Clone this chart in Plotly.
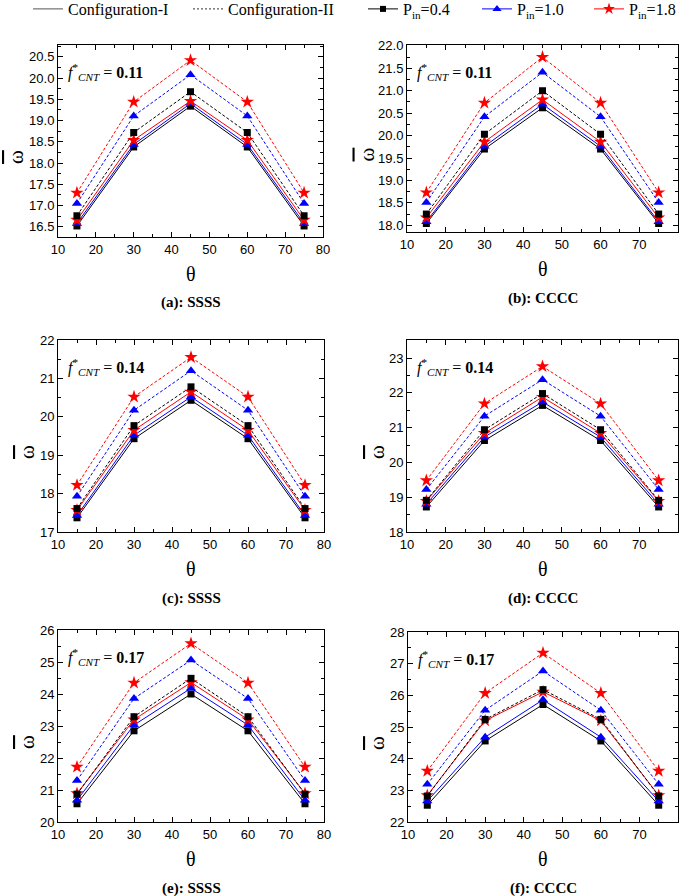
import plotly.graph_objects as go

theta = [15, 30, 45, 60, 75]

# (a) SSSS, f*=0.11
a_I_04 = [16.52, 18.38, 19.34, 18.38, 16.52]
a_I_10 = [16.58, 18.44, 19.40, 18.44, 16.58]
a_I_18 = [16.66, 18.54, 19.46, 18.54, 16.66]
a_II_04 = [16.76, 18.72, 19.68, 18.72, 16.76]
a_II_10 = [17.05, 19.11, 20.08, 19.11, 17.05]
a_II_18 = [17.30, 19.44, 20.42, 19.44, 17.30]
# (b) CCCC, f*=0.11
b_I_04 = [18.04, 19.70, 20.62, 19.70, 18.04]
b_I_10 = [18.08, 19.76, 20.70, 19.76, 18.08]
b_I_18 = [18.17, 19.86, 20.80, 19.86, 18.17]
b_II_04 = [18.25, 20.03, 21.00, 20.03, 18.25]
b_II_10 = [18.51, 20.42, 21.41, 20.42, 18.51]
b_II_18 = [18.73, 20.73, 21.75, 20.73, 18.73]
# (c) SSSS, f*=0.14
c_I_04 = [17.37, 19.43, 20.43, 19.43, 17.37]
c_I_10 = [17.43, 19.52, 20.52, 19.52, 17.43]
c_I_18 = [17.57, 19.65, 20.65, 19.65, 17.57]
c_II_04 = [17.61, 19.77, 20.78, 19.77, 17.61]
c_II_10 = [17.93, 20.17, 21.20, 20.17, 17.93]
c_II_18 = [18.22, 20.52, 21.55, 20.52, 18.22]
# (d) CCCC, f*=0.14
d_I_04 = [18.72, 20.63, 21.64, 20.63, 18.72]
d_I_10 = [18.80, 20.73, 21.74, 20.73, 18.80]
d_I_18 = [18.89, 20.84, 21.88, 20.84, 18.89]
d_II_04 = [18.91, 20.94, 21.98, 20.94, 18.91]
d_II_10 = [19.22, 21.33, 22.38, 21.33, 19.22]
d_II_18 = [19.48, 21.69, 22.76, 21.69, 19.48]
# (e) SSSS, f*=0.17
e_I_04 = [20.57, 22.85, 24.00, 22.85, 20.57]
e_I_10 = [20.68, 23.03, 24.18, 23.03, 20.68]
e_I_18 = [20.89, 23.20, 24.36, 23.20, 20.89]
e_II_04 = [20.87, 23.29, 24.49, 23.29, 20.87]
e_II_10 = [21.30, 23.86, 25.06, 23.86, 21.30]
e_II_18 = [21.72, 24.35, 25.58, 24.35, 21.72]
# (f) CCCC, f*=0.17
f_I_04 = [22.53, 24.56, 25.71, 24.56, 22.53]
f_I_10 = [22.66, 24.68, 25.86, 24.68, 22.66]
f_I_18 = [22.84, 25.20, 26.11, 25.20, 22.84]
f_II_04 = [22.82, 25.24, 26.18, 25.24, 22.82]
f_II_10 = [23.19, 25.53, 26.77, 25.53, 23.19]
f_II_18 = [23.61, 26.07, 27.34, 26.07, 23.61]

captions = ["(a): SSSS", "(b): CCCC", "(c): SSSS", "(d): CCCC", "(e): SSSS", "(f): CCCC"]
fcnt = ["0.11", "0.11", "0.14", "0.14", "0.17", "0.17"]
pin_labels = ["P<sub>in</sub>=0.4", "P<sub>in</sub>=1.0", "P<sub>in</sub>=1.8"]

panels = [
    (a_I_04, a_I_10, a_I_18, a_II_04, a_II_10, a_II_18),
    (b_I_04, b_I_10, b_I_18, b_II_04, b_II_10, b_II_18),
    (c_I_04, c_I_10, c_I_18, c_II_04, c_II_10, c_II_18),
    (d_I_04, d_I_10, d_I_18, d_II_04, d_II_10, d_II_18),
    (e_I_04, e_I_10, e_I_18, e_II_04, e_II_10, e_II_18),
    (f_I_04, f_I_10, f_I_18, f_II_04, f_II_10, f_II_18),
]

W, H = 685, 896
# pixel boxes (left, right, top, bottom)
boxes = [
    (58, 323, 45, 237), (407, 678, 45, 232),
    (58, 324, 340, 532), (407, 678, 340, 532),
    (58, 324, 630, 822), (408, 678, 632, 822),
]
omega_x = [16, 366, 27, 377, 27, 377]
yranges = [(16.26, 20.78), (17.85, 22.02), (17, 22), (18, 23.52), (20, 26), (22, 28)]
ydticks = [0.5, 0.5, 1, 1, 1, 1]
ytick0 = [16.5, 18.0, 17, 18, 20, 22]
yfmt = [".1f", ".1f", "d", "d", "d", "d"]

colors = ["black", "blue", "red"]
symbols = ["square", "triangle-up", "star"]
msizes = [7, 9, 10]

SERIF = "Liberation Serif, Times New Roman, serif"
SANS = "Liberation Sans, Arial, sans-serif"

fig = go.Figure()

for i, series in enumerate(panels):
    xa = "x" if i == 0 else f"x{i+1}"
    ya = "y" if i == 0 else f"y{i+1}"
    # Configuration-I (solid)
    for k in range(3):
        fig.add_trace(go.Scatter(
            x=theta, y=series[k], xaxis=xa, yaxis=ya, mode="lines+markers",
            line=dict(color=colors[k], width=1),
            marker=dict(symbol=symbols[k], size=msizes[k], color=colors[k]),
            showlegend=False))
    # Configuration-II (dashed)
    for k in range(3):
        fig.add_trace(go.Scatter(
            x=theta, y=series[3 + k], xaxis=xa, yaxis=ya, mode="lines+markers",
            line=dict(color=colors[k], width=1, dash="3px,2px"),
            marker=dict(symbol=symbols[k], size=msizes[k], color=colors[k]),
            showlegend=False))

# legend entries, each in its own legend for exact placement
fig.add_trace(go.Scatter(x=[None], y=[None], mode="lines", name="Configuration-I",
                         line=dict(color="#555555", width=1), legend="legend"))
fig.add_trace(go.Scatter(x=[None], y=[None], mode="lines", name="Configuration-II",
                         line=dict(color="#333333", width=1, dash="2px,2px"), legend="legend2"))
for k in range(3):
    fig.add_trace(go.Scatter(x=[None], y=[None], mode="lines+markers", name=pin_labels[k],
                             line=dict(color=colors[k], width=1),
                             marker=dict(symbol=symbols[k], size=msizes[k] - 1, color=colors[k]),
                             legend=f"legend{k+3}"))

legend_text_x = [68, 228, 403, 517, 629]

layout = dict(
    width=W, height=H, margin=dict(l=0, r=0, t=0, b=0, autoexpand=False),
    paper_bgcolor="white", plot_bgcolor="white",
    showlegend=True,
)
for j, tx in enumerate(legend_text_x):
    key = "legend" if j == 0 else f"legend{j+1}"
    layout[key] = dict(x=(tx - 40) / W, y=1 - 9 / H, xanchor="left", yanchor="middle",
                       xref="container", yref="container",
                       font=dict(family=SERIF, size=16, color="black"),
                       itemwidth=30, bgcolor="rgba(0,0,0,0)")

annotations = []
for i, (l, r, t, b) in enumerate(boxes):
    xkey = "xaxis" if i == 0 else f"xaxis{i+1}"
    ykey = "yaxis" if i == 0 else f"yaxis{i+1}"
    xa = "x" if i == 0 else f"x{i+1}"
    ya = "y" if i == 0 else f"y{i+1}"
    axis_common = dict(showline=True, linecolor="black", linewidth=1, mirror="ticks",
                       ticks="inside", ticklen=5, tickwidth=1, tickcolor="black",
                       showgrid=False, zeroline=False,
                       tickfont=dict(family=SANS, size=13, color="black"))
    layout[xkey] = dict(domain=[l / W, r / W], anchor=ya, range=[10, 80], dtick=10, tick0=10,
                        minor=dict(ticks="inside", ticklen=3, dtick=5, tickcolor="black"),
                        **axis_common)
    layout[ykey] = dict(domain=[1 - b / H, 1 - t / H], anchor=xa, range=list(yranges[i]),
                        dtick=ydticks[i], tick0=ytick0[i], tickformat=yfmt[i],
                        minor=dict(ticks="inside", ticklen=3, dtick=ydticks[i] / 2,
                                   tickcolor="black"),
                        **axis_common)
    cx = (l + r) / 2 / W
    # theta label
    annotations.append(dict(x=cx, y=1 - (b + 37) / H, xref="paper", yref="paper",
                            xanchor="center", yanchor="middle",
                            text="θ", showarrow=False,
                            font=dict(family=SERIF, size=20, color="black")))
    # caption
    annotations.append(dict(x=cx, y=1 - (b + 66) / H, xref="paper", yref="paper",
                            xanchor="center", yanchor="middle",
                            text="<b>" + captions[i] + "</b>", showarrow=False,
                            font=dict(family=SERIF, size=15, color="black")))
    # omega label
    annotations.append(dict(x=omega_x[i] / W, y=1 - ((t + b) / 2 + 16) / H,
                            xref="paper", yref="paper",
                            xanchor="center", yanchor="middle",
                            text="<span style='text-decoration:overline'>ω</span>",
                            showarrow=False, textangle=-90,
                            font=dict(family=SERIF, size=21, color="black")))
    # f*_CNT annotation
    annotations.append(dict(x=(l + 8) / W, y=1 - (t + 27) / H, xref="paper", yref="paper",
                            xanchor="left", yanchor="middle",
                            text="<i>f</i><sup>*</sup><sub><i>CNT</i></sub> = <b>" + fcnt[i] + "</b>",
                            showarrow=False,
                            font=dict(family=SERIF, size=16, color="black")))

layout["annotations"] = annotations
fig.update_layout(**layout)
fig.write_html("out.html", config={"displayModeBar": False},
               post_script="document.body.style.margin='0';document.body.style.overflow='hidden';")
